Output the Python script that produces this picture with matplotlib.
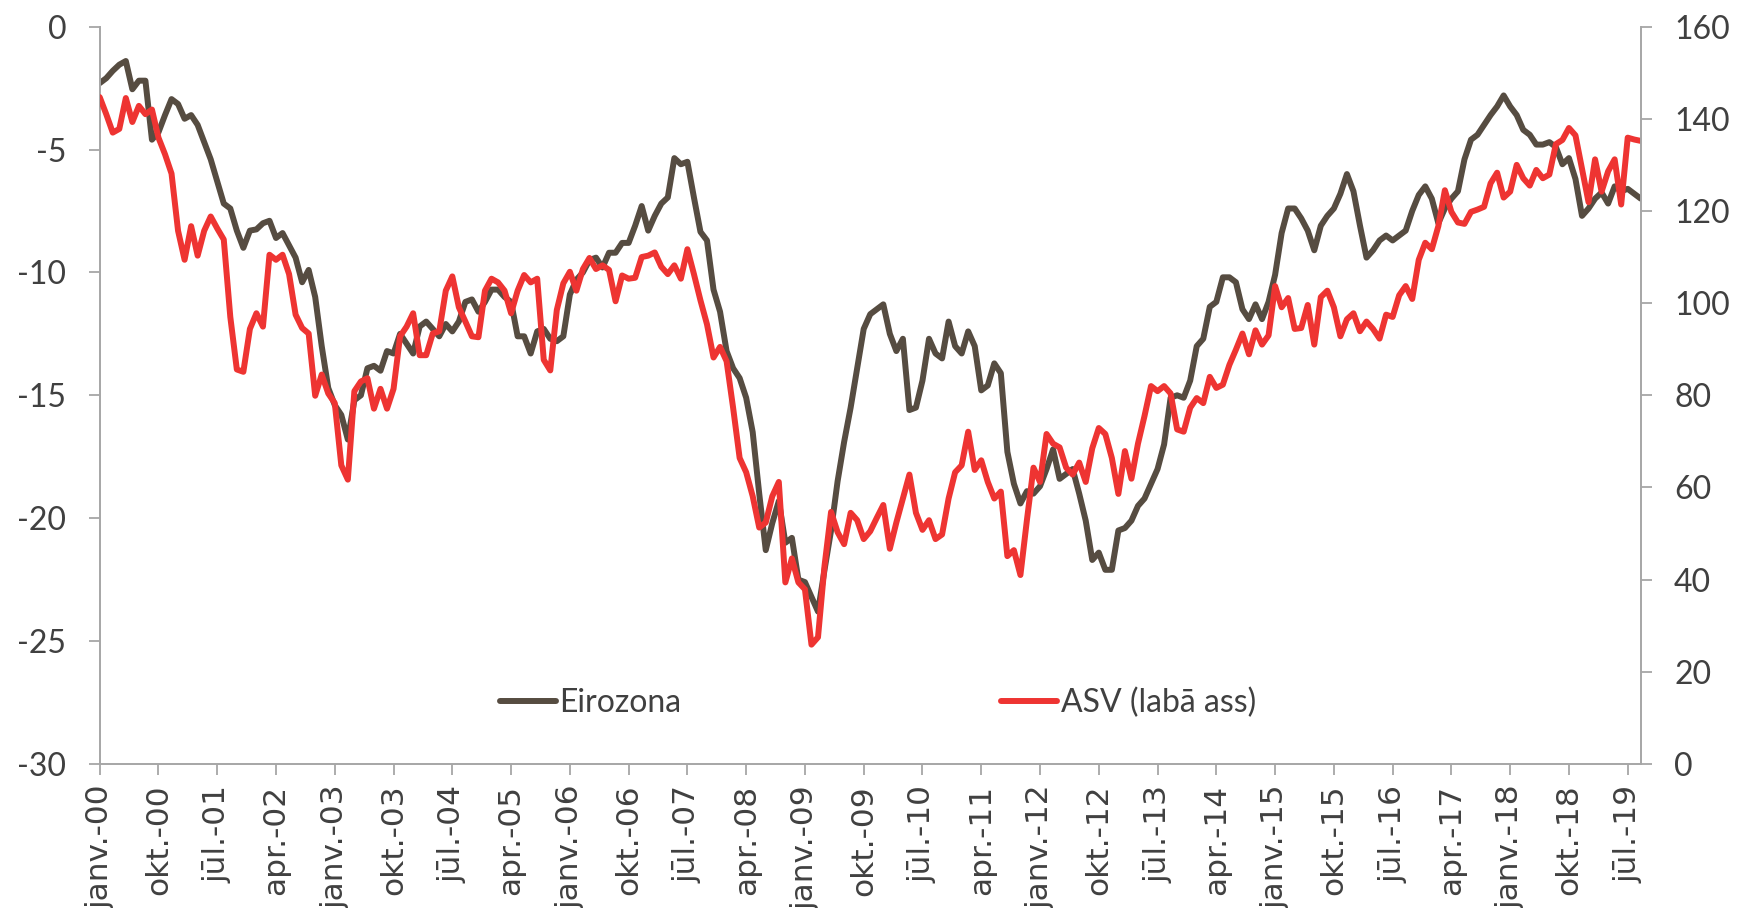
import matplotlib
matplotlib.use('Agg')
import matplotlib.pyplot as plt
import numpy as np

plt.rcParams['axes.unicode_minus'] = False

# monthly values, janv.-00 .. sept.-19
eirozona = [
    -2.3, -2.1, -1.8, -1.55, -1.4, -2.55, -2.2, -2.2, -4.6, -4.3,
    -3.6, -2.95, -3.15, -3.75, -3.6, -4.0, -4.7, -5.4, -6.3, -7.2,
    -7.4, -8.3, -9.0, -8.3, -8.25, -8.0, -7.9, -8.6, -8.4, -8.9,
    -9.4, -10.4, -9.9, -11.0, -13.0, -14.7, -15.4, -15.8, -16.8, -15.2,
    -15.0, -13.9, -13.8, -14.0, -13.2, -13.3, -12.5, -12.9, -13.3, -12.2,
    -12.0, -12.3, -12.6, -12.1, -12.4, -12.0, -11.2, -11.1, -11.6, -11.2,
    -10.7, -10.7, -11.0, -11.2, -12.6, -12.6, -13.3, -12.4, -12.3, -12.7,
    -12.8, -12.6, -10.9, -10.3, -10.0, -9.5, -9.4, -9.8, -9.2, -9.2,
    -8.8, -8.8, -8.1, -7.3, -8.3, -7.7, -7.2, -6.95, -5.35, -5.6,
    -5.5, -6.95, -8.35, -8.7, -10.7, -11.6, -13.2, -13.9, -14.3, -15.1,
    -16.5, -19.0, -21.3, -20.2, -19.3, -21.0, -20.8, -22.5, -22.6, -23.2,
    -23.8, -22.1, -20.5, -18.5, -16.9, -15.5, -13.9, -12.3, -11.7, -11.5,
    -11.3, -12.5, -13.2, -12.7, -15.6, -15.5, -14.4, -12.7, -13.3, -13.5,
    -12.0, -13.0, -13.3, -12.4, -13.0, -14.8, -14.6, -13.7, -14.1, -17.3,
    -18.6, -19.4, -18.9, -19.0, -18.7, -18.0, -17.2, -18.4, -18.2, -18.0,
    -19.0, -20.1, -21.7, -21.4, -22.1, -22.1, -20.5, -20.4, -20.1, -19.5,
    -19.2, -18.6, -18.0, -17.0, -15.1, -15.0, -15.1, -14.4, -13.0, -12.7,
    -11.4, -11.2, -10.2, -10.2, -10.4, -11.5, -11.9, -11.3, -11.9, -11.2,
    -10.1, -8.4, -7.4, -7.4, -7.8, -8.3, -9.1, -8.1, -7.7, -7.4,
    -6.8, -6.0, -6.7, -8.1, -9.4, -9.1, -8.7, -8.5, -8.7, -8.5,
    -8.3, -7.5, -6.85, -6.5, -7.0, -8.0, -7.4, -7.0, -6.7, -5.4,
    -4.6, -4.4, -4.0, -3.6, -3.25, -2.8, -3.25, -3.6, -4.2, -4.4,
    -4.8, -4.8, -4.7, -4.9, -5.6, -5.35, -6.2, -7.7, -7.4, -7.0,
    -6.75, -7.2, -6.5, -6.7, -6.6, -6.8, -7.0,
]

asv = [
    144.7, 141.0, 137.0, 137.8, 144.5, 139.3, 142.8, 141.0, 142.0, 135.9,
    132.3, 128.1, 115.7, 109.4, 116.7, 110.3, 115.7, 118.8, 116.2, 113.8,
    97.0, 85.6, 85.1, 94.4, 97.8, 94.9, 110.5, 109.4, 110.5, 106.3,
    97.5, 94.6, 93.4, 79.9, 84.5, 80.4, 78.3, 64.8, 61.7, 80.9,
    83.0, 83.7, 77.1, 81.4, 77.1, 81.4, 92.8, 94.9, 97.8, 88.7,
    88.7, 93.4, 93.9, 102.7, 105.8, 99.1, 96.0, 92.8, 92.6, 102.7,
    105.3, 104.5, 102.7, 97.8, 102.7, 106.1, 104.5, 105.3, 87.7, 85.4,
    98.5, 104.3, 106.8, 102.7, 107.4, 109.8, 107.4, 108.2, 107.2, 100.4,
    106.0, 105.3, 105.5, 110.0, 110.3, 111.0, 107.9, 106.3, 108.2, 105.3,
    111.7, 106.3, 100.6, 95.4, 88.2, 90.5, 87.4, 77.3, 66.4, 63.3,
    58.1, 51.3, 52.4, 58.1, 61.2, 39.4, 44.6, 39.4, 37.9, 25.9,
    27.5, 43.0, 54.7, 50.3, 47.7, 54.5, 52.9, 48.8, 50.5, 53.4,
    56.2, 46.7, 52.4, 57.6, 62.8, 54.5, 50.8, 52.9, 48.8, 49.8,
    57.6, 63.3, 64.8, 72.1, 63.8, 65.9, 61.2, 57.6, 59.1, 45.1,
    46.4, 41.0, 53.0, 64.3, 61.2, 71.6, 69.5, 68.7, 64.3, 62.8,
    65.4, 61.2, 68.5, 72.9, 71.6, 66.4, 58.6, 67.9, 61.9, 69.5,
    75.5, 82.0, 80.9, 82.0, 80.4, 72.6, 72.1, 77.3, 79.4, 78.3,
    84.0, 81.6, 82.3, 86.6, 89.9, 93.4, 88.9, 94.1, 91.0, 93.0,
    103.7, 99.1, 101.1, 94.4, 94.6, 99.6, 91.0, 101.3, 102.7, 99.1,
    92.8, 96.5, 97.8, 93.9, 96.0, 94.4, 92.3, 97.5, 97.0, 101.7,
    103.7, 100.9, 109.4, 113.1, 111.7, 116.7, 124.5, 119.8, 117.5, 117.2,
    119.8, 120.3, 120.9, 126.0, 128.3, 122.9, 124.2, 130.0, 127.1, 125.5,
    128.9, 127.1, 127.9, 134.5, 135.4, 138.0, 136.4, 129.1, 121.9, 131.2,
    124.2, 128.6, 131.2, 121.4, 135.9, 135.5, 135.2,
]

tick_months = list(range(0, 235, 9))
tick_labels = [
    'janv.-00', 'okt.-00', 'jūl.-01', 'apr.-02', 'janv.-03', 'okt.-03',
    'jūl.-04', 'apr.-05', 'janv.-06', 'okt.-06', 'jūl.-07', 'apr.-08',
    'janv.-09', 'okt.-09', 'jūl.-10', 'apr.-11', 'janv.-12', 'okt.-12',
    'jūl.-13', 'apr.-14', 'janv.-15', 'okt.-15', 'jūl.-16', 'apr.-17',
    'janv.-18', 'okt.-18', 'jūl.-19',
]

DARK = '#564C41'
RED = '#EE3432'
GRAY = '#A6A6A6'
TXT = '#404040'

months = np.arange(len(eirozona))

fig = plt.figure(figsize=(17.37, 9.08), dpi=100)
ax = fig.add_axes([0.0574, 0.1586, 0.8872, 0.8121])
ax2 = ax.twinx()

l1, = ax.plot(months, eirozona, color=DARK, lw=4.3, solid_joinstyle='round',
              solid_capstyle='round', label='Eirozona')
l2, = ax2.plot(months, asv, color=RED, lw=4.3, solid_joinstyle='round',
               solid_capstyle='round', label='ASV (labā ass)')

ax.set_xlim(0, len(eirozona) - 1)
ax.set_ylim(-30, 0)
ax.set_yticks(np.arange(-30, 1, 5))
ax2.set_ylim(0, 160)
ax2.set_yticks(np.arange(0, 161, 20))

ax.set_xticks(tick_months)
ax.set_xticklabels(tick_labels, rotation=90, fontsize=22.5, color=TXT,
                   family='DejaVu Sans')

for a in (ax, ax2):
    a.spines['top'].set_visible(False)
    for s in a.spines.values():
        s.set_color(GRAY)
        s.set_linewidth(1.4)
ax.spines['right'].set_visible(False)
ax2.spines['left'].set_visible(False)
ax2.spines['bottom'].set_visible(False)

ax.tick_params(axis='x', direction='out', length=8, width=1.3, color=GRAY, pad=7)
ax.tick_params(axis='y', direction='out', length=8, width=1.3, color=GRAY,
               pad=16, labelsize=23, labelcolor=TXT)
ax2.tick_params(axis='y', direction='out', length=8, width=1.3, color=GRAY,
                pad=16, labelsize=23, labelcolor=TXT)
for lbl in ax.get_yticklabels() + ax2.get_yticklabels():
    lbl.set_fontfamily('Lato')

leg = ax2.legend(handles=[l1, l2], loc='center', bbox_to_anchor=(0.505, 0.083),
                 ncol=2, frameon=False, handlelength=1.75, handletextpad=0.12,
                 columnspacing=10, prop={'family': 'Lato', 'size': 23})
for t in leg.get_texts():
    t.set_color(TXT)

fig.savefig('out.png', dpi=100)
